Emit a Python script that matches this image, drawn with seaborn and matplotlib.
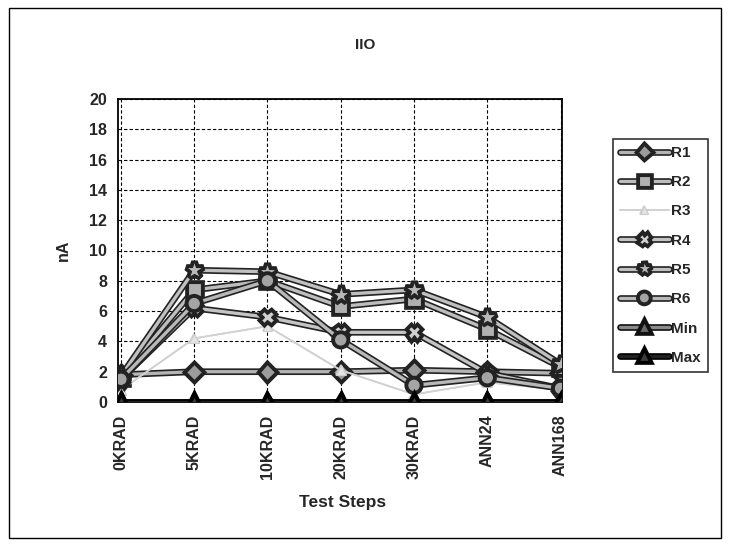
import matplotlib
matplotlib.use("Agg")
import matplotlib.pyplot as plt
import matplotlib.patheffects as pe
from matplotlib.patches import Rectangle
import seaborn as sns
import pandas as pd
import numpy as np

steps = ["0KRAD", "5KRAD", "10KRAD", "20KRAD", "30KRAD", "ANN24", "ANN168"]
R1 = [1.8, 2.0, 2.0, 2.0, 2.1, 2.0, 1.9]
R2 = [1.6, 7.4, 8.0, 6.3, 6.8, 4.8, 2.3]
R3 = [0.8, 4.2, 5.0, 2.1, 0.5, 1.3, 0.8]
R4 = [1.5, 6.2, 5.6, 4.6, 4.6, 1.9, 0.9]
R5 = [1.7, 8.7, 8.6, 7.1, 7.4, 5.6, 2.5]
R6 = [1.5, 6.5, 8.0, 4.1, 1.1, 1.6, 0.9]
Min = [0, 0, 0, 0, 0, 0, 0]
Max = [0, 0, 0, 0, 0, 0, 0]

series = {"R1": R1, "R2": R2, "R3": R3, "R4": R4, "R5": R5, "R6": R6,
          "Min": Min, "Max": Max}

styles = {
    "R1": dict(marker="D", ms=8, mfc="#9c9c9c", lc="#b4b4b4", ec="#222222", lw=2.4, ow=4.8),
    "R2": dict(marker="s", ms=9.5, mfc="#b0b0b0", lc="#bdbdbd", ec="#222222", lw=2.4, ow=4.8),
    "R3": dict(marker="^", ms=7, mfc="#e4e4e4", lc="#d2d2d2", ec="#cccccc", lw=1.2, ow=1.2),
    "R4": dict(marker="X", ms=9, mfc="#d0d0d0", lc="#c4c4c4", ec="#222222", lw=2.4, ow=4.8),
    "R5": dict(marker="*", ms=13, mfc="#b8b8b8", lc="#c0c0c0", ec="#222222", lw=2.4, ow=4.8),
    "R6": dict(marker="o", ms=9, mfc="#a4a4a4", lc="#b8b8b8", ec="#222222", lw=2.4, ow=4.8),
    "Min": dict(marker="^", ms=9, mfc="#6a6a6a", lc="#8a8a8a", ec="#111111", lw=2.4, ow=4.8),
    "Max": dict(marker="^", ms=9, mfc="#3a3a3a", lc="#222222", ec="#000000", lw=2.4, ow=4.8),
}

sns.set_style("white")
plt.rcParams["font.family"] = ["Liberation Sans", "DejaVu Sans"]
plt.rcParams["font.weight"] = "bold"

fig = plt.figure(figsize=(7.3, 5.46), dpi=100)
ax = fig.add_axes([118 / 730, 1 - 402 / 546, (562 - 118) / 730, (402 - 99) / 546])

pos = np.arange(len(steps))
for name, vals in series.items():
    st = styles[name]
    df = pd.DataFrame({"x": pos, "y": vals})
    sns.lineplot(data=df, x="x", y="y", ax=ax, label=name, sort=False,
                 color=st["lc"], linewidth=st["lw"], marker=st["marker"],
                 markersize=st["ms"], markerfacecolor=st["mfc"],
                 markeredgecolor=st["ec"], markeredgewidth=0.8,
                 path_effects=[pe.Stroke(linewidth=st["ow"], foreground=st["ec"]), pe.Normal()],
                 zorder=3)

ax.set_xlim(-0.04, 6.02)
ax.set_ylim(0, 20)
ax.set_xticks(pos)
ax.set_xticklabels(steps, rotation=90, fontsize=11.5, fontweight="bold")
ax.set_yticks(np.arange(0, 21, 2))
ax.set_yticklabels([str(v) for v in range(0, 21, 2)], fontsize=11.5, fontweight="bold")
ax.tick_params(axis="both", direction="out", length=4, width=1, color="black", pad=4)
ax.tick_params(axis="x", pad=5)
ax.grid(True, color="black", linestyle=(0, (3, 2)), linewidth=0.8)
ax.set_axisbelow(True)
for s in ax.spines.values():
    s.set_color("black")
    s.set_linewidth(1.3)

ax.set_xlabel("Test Steps", fontsize=12.5, fontweight="bold")
ax.xaxis.set_label_coords((343 - 118) / (562 - 118), -(503 - 402) / (402 - 99))
ax.xaxis.label.set_va("center")
ax.set_ylabel("nA", fontsize=11.5, fontweight="bold")
ax.yaxis.set_label_coords(-(118 - 63) / (562 - 118), 0.5)
ax.yaxis.label.set_va("center")
fig.text(365 / 730, 1 - 45 / 546, "IIO", ha="center", va="center", fontsize=11, fontweight="bold")

leg = ax.legend(loc="upper left", bbox_to_anchor=(613 / 730, 1 - 139 / 546),
                bbox_transform=fig.transFigure, frameon=True, fancybox=False,
                fontsize=11, handlelength=3.2, labelspacing=1.0, markerscale=0.8,
                borderpad=0.45, handletextpad=0.15, borderaxespad=0)
leg.get_frame().set_edgecolor("black")
leg.get_frame().set_linewidth(1.2)
for t in leg.get_texts():
    t.set_fontweight("bold")

fig.patches.append(Rectangle((0.012, 0.014), 0.976, 0.972, transform=fig.transFigure,
                             fill=False, edgecolor="black", linewidth=1.0))

fig.savefig("out.png", dpi=100)
